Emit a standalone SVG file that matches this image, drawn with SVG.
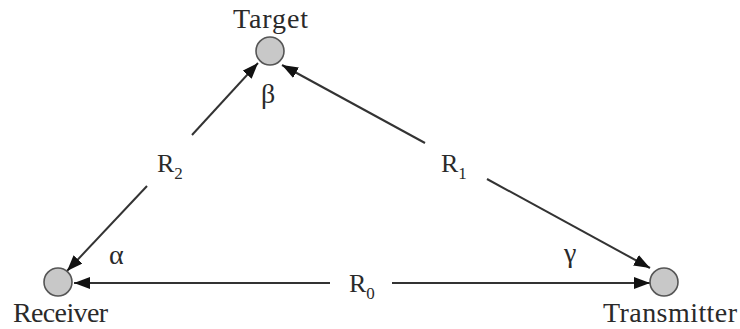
<svg xmlns="http://www.w3.org/2000/svg" width="740" height="329" viewBox="0 0 740 329">
<style>
.node circle{fill:#c8c8c8;stroke:#555;stroke-width:1.6}
.lbl{font-family:"Liberation Serif","Times New Roman",serif;font-size:28px;fill:#2a2a2a}
.rl{font-family:"Liberation Serif","Times New Roman",serif;font-size:26px;fill:#2a2a2a}
.gr{font-family:"Liberation Serif","Times New Roman",serif;font-size:28px;fill:#2a2a2a}
.sub{font-size:17px}
#connectors path{stroke:#333;stroke-width:2;fill:none;marker-end:url(#ah)}
</style>
<defs>
<marker id="ah" markerUnits="userSpaceOnUse" markerWidth="16" markerHeight="12" refX="16" refY="6" orient="auto">
<path d="M0,0 L16,6 L0,12 z" fill="#111"/>
</marker>
</defs>
<rect width="740" height="329" fill="#fff"/>
<g id="connectors">
<path d="M330,283 L74,283"/>
<path d="M392,283 L650,283"/>
<path d="M147,186 L67,271"/>
<path d="M192,135 L258,63"/>
<path d="M425,143 L282,65"/>
<path d="M487,179 L650,268"/>
</g>
<g id="target" class="node">
<circle cx="270" cy="51" r="14"/>
<text class="lbl" x="233" y="28" textLength="75">Target</text>
</g>
<g id="receiver" class="node">
<circle cx="58" cy="282" r="14"/>
<text class="lbl" x="13" y="322" textLength="95">Receiver</text>
</g>
<g id="transmitter" class="node">
<circle cx="664" cy="282" r="14"/>
<text class="lbl" x="603" y="322" textLength="134">Transmitter</text>
</g>
<g id="labels">
<text class="rl" x="157" y="172">R<tspan class="sub" dy="7">2</tspan></text>
<text class="rl" x="441" y="172">R<tspan class="sub" dy="7">1</tspan></text>
<text class="rl" x="349" y="292">R<tspan class="sub" dy="7">0</tspan></text>
<text class="gr" x="261" y="103">β</text>
<text class="gr" x="109" y="264">α</text>
<text class="gr" x="564" y="262">γ</text>
</g>
</svg>
